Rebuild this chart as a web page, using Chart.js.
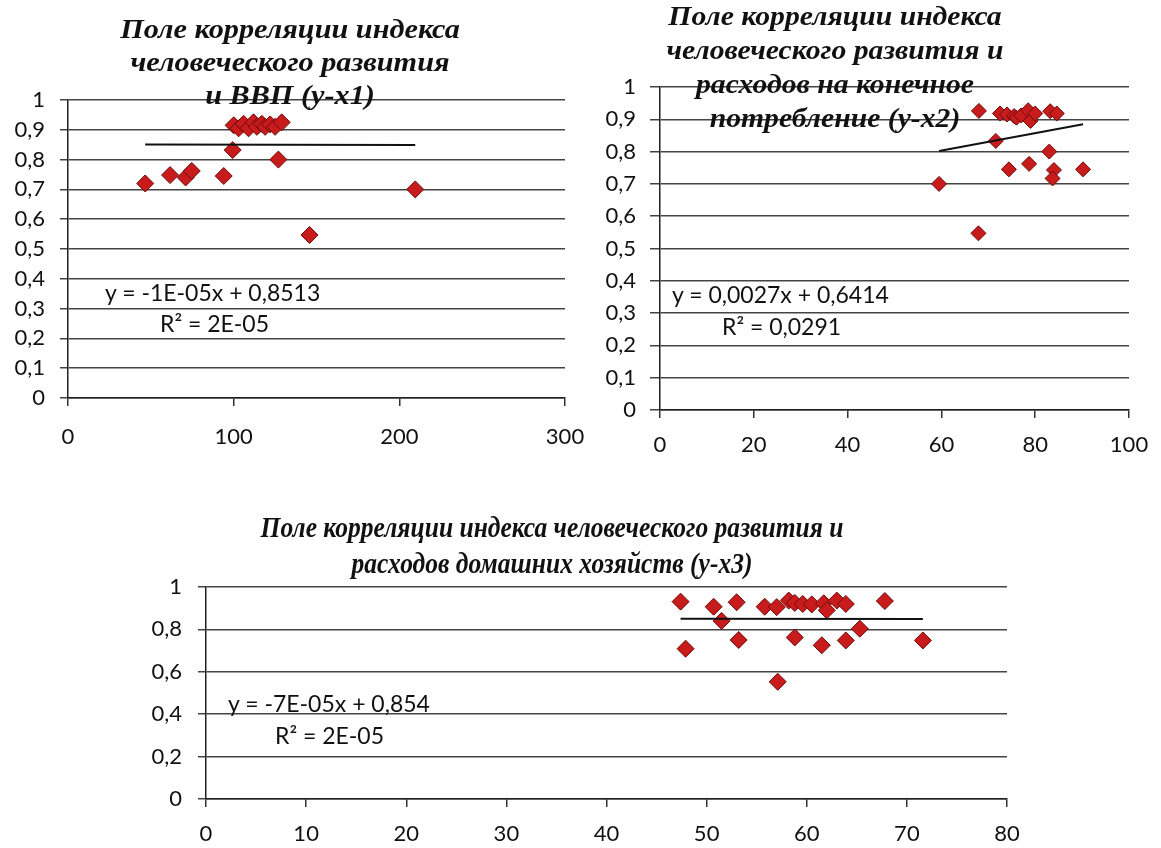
<!DOCTYPE html>
<html>
<head>
<meta charset="utf-8">
<script src="https://cdn.jsdelivr.net/npm/chart.js@4.4.0/dist/chart.umd.min.js"></script>
<style>
  html, body { margin:0; padding:0; background:#fff; width:1161px; height:848px; overflow:hidden; }
  .box { position:absolute; }
  canvas { display:block; }
  .title { position:absolute; font-family:"Liberation Serif","Times New Roman",serif; font-weight:bold; font-style:italic; color:#111; text-align:center; white-space:nowrap; }
  .title div { transform-origin:center; }
  .eq { position:absolute; font-family:Lato,"Liberation Sans",sans-serif; font-size:23px; color:#111; white-space:nowrap; }
</style>
</head>
<body>
<div class="box" style="left:0;top:0;width:600px;height:450px"><canvas id="c1" width="600" height="450"></canvas></div>
<div class="box" style="left:590px;top:0;width:571px;height:460px"><canvas id="c2" width="571" height="460"></canvas></div>
<div class="box" style="left:140px;top:500px;width:880px;height:348px"><canvas id="c3" width="880" height="348"></canvas></div>

<div class="title" id="t1" style="left:90px;top:12px;width:400px;font-size:28px;line-height:33px">
  <div style="transform:scaleX(1.08)">Поле корреляции индекса</div><div style="transform:scaleX(1.08)">человеческого развития</div><div style="transform:scaleX(1.08)">и ВВП (y-x1)</div>
</div>
<div class="title" id="t2" style="left:635px;top:-1px;width:400px;font-size:28px;line-height:34px">
  <div style="transform:scaleX(1.06)">Поле корреляции индекса</div><div style="transform:scaleX(1.06)">человеческого развития и</div><div style="transform:scaleX(1.06)">расходов на конечное</div><div style="transform:scaleX(1.06)">потребление (y-x2)</div>
</div>
<div class="title" id="t3" style="left:202px;top:509px;width:700px;font-size:29px;line-height:36px">
  <div style="transform:scaleX(0.88)">Поле корреляции индекса человеческого развития и</div><div style="transform:scaleX(0.88)">расходов домашних хозяйств (y-x3)</div>
</div>

<div class="eq" style="left:105px;top:278px">y = -1E-05x + 0,8513</div>
<div class="eq" style="left:160px;top:309px">R² = 2E-05</div>
<div class="eq" style="left:672px;top:280px">y = 0,0027x + 0,6414</div>
<div class="eq" style="left:722px;top:312px">R² = 0,0291</div>
<div class="eq" style="left:228px;top:689px">y = -7E-05x + 0,854</div>
<div class="eq" style="left:275px;top:721px">R² = 2E-05</div>

<script>
// ---------- data ----------
// Chart 1: HDI (y) vs GDP (x1)
const x1 = [46.6, 61.6, 71, 74.7, 94, 99.4, 127, 145.8, 209.6,
            100, 103, 106, 109, 112, 114, 117, 119, 122, 125, 129];
const y1 = [0.72, 0.748, 0.74, 0.762, 0.745, 0.832, 0.80, 0.547, 0.70,
            0.915, 0.905, 0.92, 0.905, 0.925, 0.91, 0.92, 0.91, 0.918, 0.91, 0.925];
// Chart 2: HDI (y) vs final consumption (x2)
const x2 = [68, 71.6, 83, 74.4, 78.7, 84, 83.7, 90.2, 59.5, 67.9,
            72.5, 74, 75.5, 76, 77, 78.5, 79, 80, 83.2, 84.6];
const y2 = [0.926, 0.833, 0.80, 0.745, 0.762, 0.743, 0.717, 0.745, 0.70, 0.547,
            0.918, 0.915, 0.91, 0.905, 0.912, 0.928, 0.895, 0.918, 0.925, 0.918];
// Chart 3: HDI (y) vs household expenditure (x3)
const x3 = [47.4, 47.9, 50.7, 51.5, 53, 53.2, 55.8, 57, 57.1, 58.2, 58.8, 58.8,
            59.6, 60.5, 61.5, 61.7, 62, 63, 63.9, 63.9, 65.3, 67.8, 71.6];
const y3 = [0.931, 0.709, 0.907, 0.84, 0.928, 0.75, 0.907, 0.905, 0.553, 0.936, 0.762, 0.925,
            0.92, 0.918, 0.725, 0.923, 0.89, 0.936, 0.92, 0.748, 0.803, 0.934, 0.748];

// trend line coefficients (slope, intercept) from the equations shown
const trend1 = [-0.00001, 0.8513];
const trend2 = [0.0027, 0.6414];
const trend3 = [-0.00007, 0.854];

// tick values and labels
const yTicks1 = [0, 0.1, 0.2, 0.3, 0.4, 0.5, 0.6, 0.7, 0.8, 0.9, 1];
const yLabels1 = ['0', '0,1', '0,2', '0,3', '0,4', '0,5', '0,6', '0,7', '0,8', '0,9', '1'];
const xTicks1 = [0, 100, 200, 300];
const xLabels1 = ['0', '100', '200', '300'];
const yTicks2 = [0, 0.1, 0.2, 0.3, 0.4, 0.5, 0.6, 0.7, 0.8, 0.9, 1];
const yLabels2 = ['0', '0,1', '0,2', '0,3', '0,4', '0,5', '0,6', '0,7', '0,8', '0,9', '1'];
const xTicks2 = [0, 20, 40, 60, 80, 100];
const xLabels2 = ['0', '20', '40', '60', '80', '100'];
const yTicks3 = [0, 0.2, 0.4, 0.6, 0.8, 1];
const yLabels3 = ['0', '0,2', '0,4', '0,6', '0,8', '1'];
const xTicks3 = [0, 10, 20, 30, 40, 50, 60, 70, 80];
const xLabels3 = ['0', '10', '20', '30', '40', '50', '60', '70', '80'];

// ---------- drawing ----------
function build(id, xs, ys, trend, xT, xL, yT, yL, L) {
  const pts = xs.map((x, i) => ({x: x, y: ys[i]}));
  const xmin = Math.min(...xs), xmax = Math.max(...xs);
  const line = [xmin, xmax].map(x => ({x: x, y: trend[0] * x + trend[1]}));
  const lab = (T, Lb) => v => { const i = T.findIndex(t => Math.abs(t - v) < 1e-9); return i >= 0 ? Lb[i] : ''; };
  const font = {family: 'Lato, "Liberation Sans", sans-serif', size: 22};
  return new Chart(document.getElementById(id), {
    type: 'scatter',
    data: {
      datasets: [
        {type: 'scatter', data: pts, pointStyle: 'rectRot', pointRadius: L.r, pointHoverRadius: L.r,
         backgroundColor: '#c81c1c', borderColor: '#6e0a0a', borderWidth: 1, order: 2},
        {type: 'line', data: line, borderColor: '#111', borderWidth: 2, pointRadius: 0, fill: false, order: 1}
      ]
    },
    options: {
      responsive: false, animation: false, devicePixelRatio: 1,
      layout: {padding: {left: 0, right: L.right, top: L.top, bottom: 0}},
      plugins: {legend: {display: false}, tooltip: {enabled: false}, title: {display: false}},
      scales: {
        x: {
          type: 'linear', min: xT[0], max: xT[xT.length - 1],
          afterBuildTicks: s => { s.ticks = xT.map(v => ({value: v})); },
          afterFit: s => { s.height = L.xh; s.paddingLeft = 0; s.paddingRight = 0; },
          grid: {drawOnChartArea: false, drawTicks: true, tickLength: 8, color: '#333', lineWidth: 1.5},
          border: {display: true, color: '#222', width: 1.5},
          ticks: {callback: lab(xT, xL), font: font, color: '#111', padding: L.xpad, maxRotation: 0, autoSkip: false}
        },
        y: {
          type: 'linear', min: yT[0], max: yT[yT.length - 1],
          afterBuildTicks: s => { s.ticks = yT.map(v => ({value: v})); },
          afterFit: s => { s.width = L.yw; s.paddingTop = 0; s.paddingBottom = 0; },
          grid: {drawOnChartArea: true, drawTicks: true, tickLength: L.ytl, color: '#444', lineWidth: 1.5},
          border: {display: true, color: '#222', width: 1.5},
          ticks: {callback: lab(yT, yL), font: font, color: '#111', padding: L.ypad, autoSkip: false}
        }
      }
    }
  });
}

build('c1', x1, y1, trend1, xTicks1, xLabels1, yTicks1, yLabels1,
      {r: 8.5, right: 35, top: 100, xh: 52, yw: 68, xpad: 18, ypad: 15, ytl: 8});
build('c2', x2, y2, trend2, xTicks2, xLabels2, yTicks2, yLabels2,
      {r: 7.5, right: 32, top: 87, xh: 50, yw: 70, xpad: 14, ypad: 14, ytl: 10});
build('c3', x3, y3, trend3, xTicks3, xLabels3, yTicks3, yLabels3,
      {r: 8.5, right: 13, top: 87, xh: 49, yw: 66, xpad: 14, ypad: 16, ytl: 8});
</script>
</body>
</html>
